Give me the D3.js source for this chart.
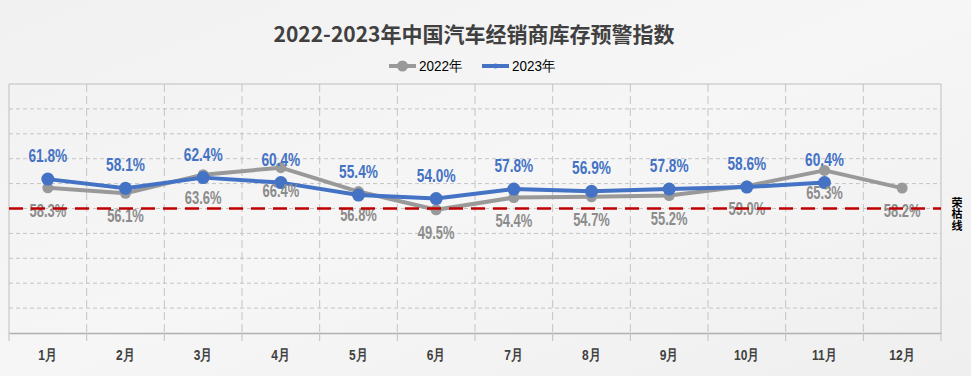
<!DOCTYPE html>
<html>
<head>
<meta charset="utf-8">
<script src="https://cdn.jsdelivr.net/npm/d3@7"></script>
<style>
  html, body { margin: 0; padding: 0; background: #f2f2f2; }
  svg { display: block; }
</style>
</head>
<body>
<div id="chart"></div>
<script>
// Chart data
const months = ["1月", "2月", "3月", "4月", "5月", "6月", "7月", "8月", "9月", "10月", "11月", "12月"];
const values2022 = [58.3, 56.1, 63.6, 66.4, 56.8, 49.5, 54.4, 54.7, 55.2, 59.0, 65.3, 58.2];
const values2023 = [61.8, 58.1, 62.4, 60.4, 55.4, 54.0, 57.8, 56.9, 57.8, 58.6, 60.4];
const yTicks = [0, 10, 20, 30, 40, 50, 60, 70, 80, 90, 100];
const warnLine = 50;

const W = 971, H = 376;
const margin = { top: 84, right: 30, bottom: 43, left: 9 };
// no narrow font installed, so bold Liberation Sans is squeezed with a transform
const labelFont = "'Liberation Sans', Arial, sans-serif";

const svg = d3.select("#chart")
    .append("svg")
    .attr("width", W)
    .attr("height", H);

// Background with a soft gradient
const defs = svg.append("defs");
const grad = defs.append("linearGradient").attr("id", "bg").attr("x1", 0).attr("y1", 0).attr("x2", 1).attr("y2", 1);
grad.append("stop").attr("offset", "0%").attr("stop-color", "#f1f1f1");
grad.append("stop").attr("offset", "50%").attr("stop-color", "#f6f6f6");
grad.append("stop").attr("offset", "100%").attr("stop-color", "#efefef");
svg.append("rect").attr("width", W).attr("height", H).attr("fill", "url(#bg)");

const x = d3.scaleBand()
    .domain(months)
    .range([margin.left, W - margin.right]);

const y = d3.scaleLinear()
    .domain([0, 100])
    .range([H - margin.bottom, margin.top]);

const xc = m => x(m) + x.bandwidth() / 2;

// Horizontal grid lines
svg.append("g")
    .selectAll("line")
    .data(yTicks.slice(1, -1))
    .enter()
    .append("line")
    .attr("x1", margin.left)
    .attr("x2", W - margin.right)
    .attr("y1", d => y(d))
    .attr("y2", d => y(d))
    .attr("stroke", "#c4c4c4")
    .attr("stroke-dasharray", "4,3");

// Vertical grid lines at category boundaries
svg.append("g")
    .selectAll("line")
    .data(months.slice(1))
    .enter()
    .append("line")
    .attr("x1", d => x(d))
    .attr("x2", d => x(d))
    .attr("y1", y(100))
    .attr("y2", y(0))
    .attr("stroke", "#c4c4c4")
    .attr("stroke-dasharray", "8,4");

// Plot frame (top, left, right)
svg.append("path")
    .attr("d", `M${margin.left},${y(0)}V${y(100)}H${W - margin.right}V${y(0)}`)
    .attr("fill", "none")
    .attr("stroke", "#bfbfbf");

// X axis
const xAxis = svg.append("g")
    .attr("transform", `translate(0,${y(0)})`)
    .call(d3.axisBottom(x).tickSize(0).tickPadding(16));
xAxis.select(".domain").attr("stroke", "#b0b0b0").attr("stroke-width", 1.5);
xAxis.selectAll(".tick text")
    .attr("fill", "#404040")
    .attr("transform", "scale(0.8,1)")
    .style("font-family", labelFont)
    .style("font-size", "15px")
    .style("font-weight", "bold");
xAxis.append("g")
    .selectAll("line")
    .data(months.concat(["end"]))
    .enter()
    .append("line")
    .attr("x1", (d, i) => i < months.length ? x(d) : W - margin.right)
    .attr("x2", (d, i) => i < months.length ? x(d) : W - margin.right)
    .attr("y1", 0)
    .attr("y2", 8)
    .attr("stroke", "#bfbfbf");

// Lines
const line2022 = d3.line().x((d, i) => xc(months[i])).y(d => y(d));
const line2023 = d3.line().x((d, i) => xc(months[i])).y(d => y(d));

svg.append("path")
    .datum(values2022)
    .attr("d", line2022)
    .attr("fill", "none")
    .attr("stroke", "#999999")
    .attr("stroke-width", 4)
    .attr("stroke-linejoin", "round");

svg.append("g")
    .selectAll("circle")
    .data(values2022)
    .enter()
    .append("circle")
    .attr("cx", (d, i) => xc(months[i]))
    .attr("cy", d => y(d))
    .attr("r", 5.5)
    .attr("fill", "#999999");

svg.append("path")
    .datum(values2023)
    .attr("d", line2023)
    .attr("fill", "none")
    .attr("stroke", "#4472c4")
    .attr("stroke-width", 4)
    .attr("stroke-linejoin", "round");

svg.append("g")
    .selectAll("circle")
    .data(values2023)
    .enter()
    .append("circle")
    .attr("cx", (d, i) => xc(months[i]))
    .attr("cy", d => y(d))
    .attr("r", 6.5)
    .attr("fill", "#4472c4");

// Data labels
svg.append("g")
    .selectAll("text")
    .data(values2023)
    .enter()
    .append("text")
    .attr("transform", (d, i) => `translate(${xc(months[i])},${y(d) - 17}) scale(0.72,1)`)
    .attr("text-anchor", "middle")
    .attr("fill", "#4472c4")
    .style("font-family", labelFont)
    .style("font-size", "19px")
    .style("font-weight", "bold")
    .text(d => d.toFixed(1) + "%");

svg.append("g")
    .selectAll("text")
    .data(values2022)
    .enter()
    .append("text")
    .attr("transform", (d, i) => `translate(${xc(months[i])},${y(d) + 29}) scale(0.72,1)`)
    .attr("text-anchor", "middle")
    .attr("fill", "#8c8c8c")
    .style("font-family", labelFont)
    .style("font-size", "18px")
    .style("font-weight", "bold")
    .text(d => d.toFixed(1) + "%");

// Warning (荣枯) line
svg.append("line")
    .attr("x1", margin.left)
    .attr("x2", W - margin.right)
    .attr("y1", y(warnLine))
    .attr("y2", y(warnLine))
    .attr("stroke", "#c00000")
    .attr("stroke-width", 2.5)
    .attr("stroke-dasharray", "14,8");

svg.append("text")
    .attr("x", 957)
    .attr("y", 197)
    .attr("fill", "#000")
    .style("font-family", "'Noto Sans CJK SC', sans-serif")
    .style("font-size", "11px")
    .style("font-weight", "bold")
    .style("writing-mode", "vertical-rl")
    .style("letter-spacing", "0.5px")
    .text("荣枯线");

// Title
svg.append("text")
    .attr("x", 474)
    .attr("y", 42)
    .attr("text-anchor", "middle")
    .attr("fill", "#404040")
    .style("font-family", "'Noto Sans CJK SC', sans-serif")
    .style("font-size", "21px")
    .style("font-weight", "bold")
    .text("2022-2023年中国汽车经销商库存预警指数");

// Legend
const legend = svg.append("g").attr("transform", "translate(389,66)");
const legendItems = [
    { name: "2022年", color: "#999999", r: 5.5, x: 0 },
    { name: "2023年", color: "#4472c4", r: 2.5, x: 93 }
];
const li = legend.selectAll("g")
    .data(legendItems)
    .enter()
    .append("g")
    .attr("transform", d => `translate(${d.x},0)`);
li.append("line")
    .attr("x1", 0).attr("x2", 27)
    .attr("stroke", d => d.color)
    .attr("stroke-width", 4);
li.append("circle")
    .attr("cx", 13.5)
    .attr("r", d => d.r)
    .attr("fill", d => d.color);
li.append("text")
    .attr("transform", "translate(30,5) scale(0.9,1)")
    .attr("fill", "#000")
    .style("font-family", labelFont)
    .style("font-size", "15px")
    .text(d => d.name);
</script>
</body>
</html>
